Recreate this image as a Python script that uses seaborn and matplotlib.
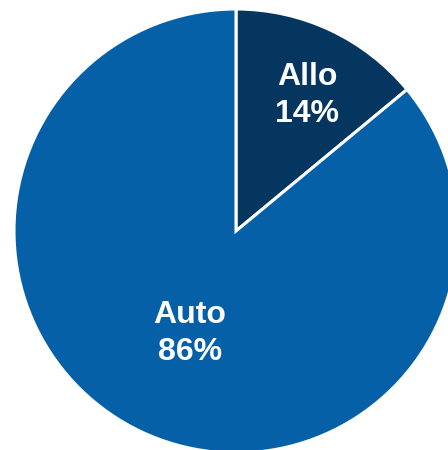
import seaborn as sns
import matplotlib
import matplotlib.pyplot as plt
import numpy as np
matplotlib.use('Agg')

# data
labels = ["Allo", "Auto"]
shares = [14, 86]
colors = ["#05365F", "#0560A8"]
# label placement: distance from centre (fraction of radius) and angle nudge (deg)
label_dist = [0.69, 0.505]
label_nudge = [-2.5, 1.0]

sns.set_theme(style = "white")
plt.rcParams['font.family'] = ['Liberation Sans', 'DejaVu Sans']

fig = plt.figure(figsize = (4.48, 4.5), dpi = 100)
# centre at (236,231) px from top-left, radius 222 px
ax = fig.add_axes([14/448, (450-231-222)/450, 444/448, 444/450])
wedges, _ = ax.pie(shares, colors = colors, startangle = 90, counterclock = False,
                   radius = 1,
                   wedgeprops = dict(edgecolor = "white", linewidth = 2.2))
ax.set_xlim(-1, 1)
ax.set_ylim(-1, 1)
ax.set_aspect('equal')
ax.axis('off')

for w, lab, val, d, nd in zip(wedges, labels, shares, label_dist, label_nudge):
    ang = np.deg2rad((w.theta1 + w.theta2)/2 + nd)
    x = d*np.cos(ang)
    y = d*np.sin(ang)
    ax.text(x, y, "{}\n{}%".format(lab, val), ha = "center", va = "center",
            color = "white", fontsize = 23, fontweight = "bold", linespacing = 1.3)

fig.savefig("out.png", dpi = 100)
